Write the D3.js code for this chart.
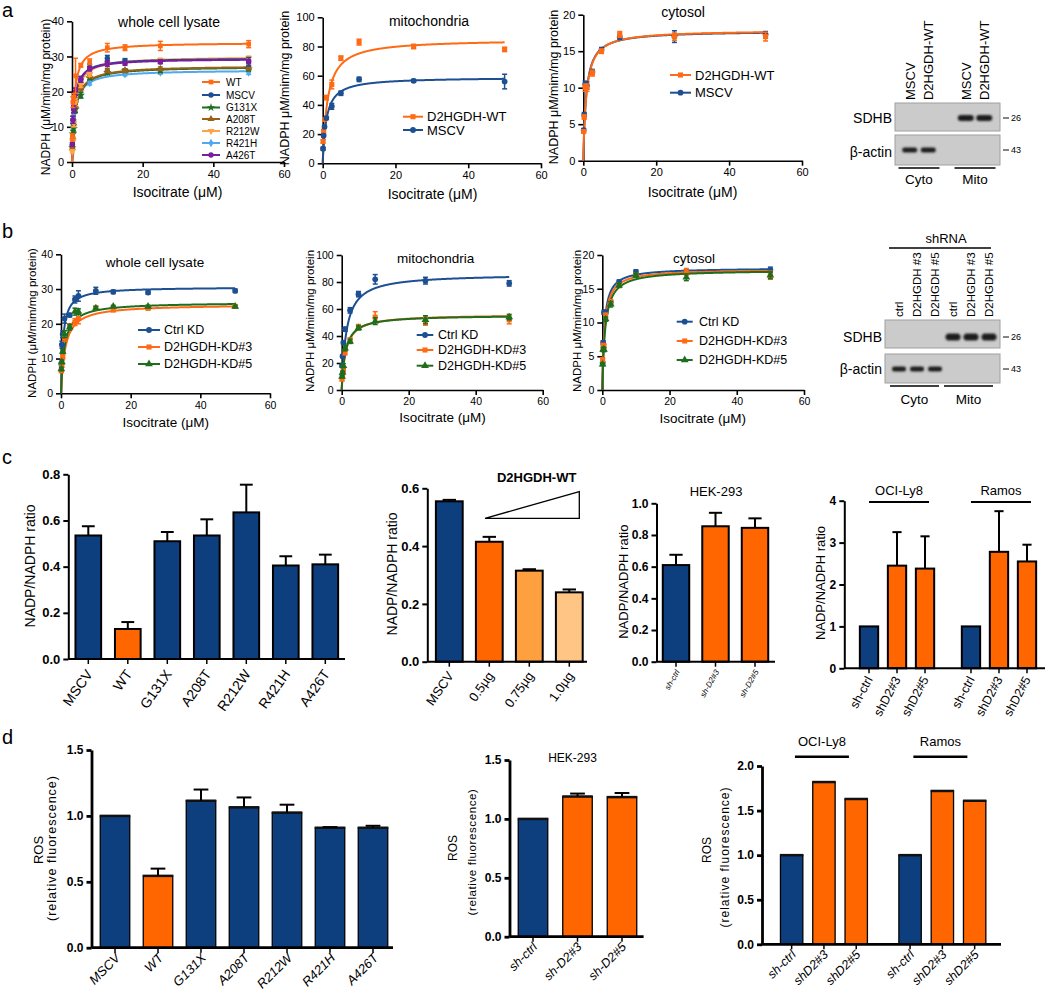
<!DOCTYPE html>
<html><head><meta charset="utf-8">
<script src="https://cdn.jsdelivr.net/npm/d3@7"></script>
<style>body{margin:0;background:#fff} svg{display:block;font-family:"Liberation Sans",Arial,Helvetica,sans-serif}</style>
</head><body><svg id="fig" width="1050" height="1003"></svg>
<script>
// ---------------- DATA ----------------
// Panel a: kinetics (Isocitrate µM vs NADPH)
const A1_X = [0.1, 0.25, 0.5, 1, 2.5, 5, 10, 15, 25, 50];
const A1_NAMES = ["WT","MSCV","G131X","A208T","R212W","R421H","A426T"];
const A1_WT      = [7, 17, 18.5, 24.5, 27.5, 28.5, 32.5, 32.5, 33, 33.5];
const A1_WT_E    = [1, 1.5, 1, 5, 0.5, 0.8, 1.2, 0.8, 1.3, 1];
const A1_MSCV    = [5, 12, 15, 20, 23.5, 27, 29.5, 28.8, 28.5, 28.5];
const A1_MSCV_E  = [0.5, 1, 1, 1, 0.8, 0.8, 0.8, 0.6, 0.5, 1.2];
const A1_G131X   = [4, 8, 9.5, 15, 19, 24, 25.5, 26, 26, 26.5];
const A1_G131X_E = [0.5, 1, 1, 1, 0.8, 0.6, 0.6, 0.5, 0.5, 0.6];
const A1_A208T   = [4, 7, 11, 16, 21, 24.5, 26, 26, 26.5, 26.8];
const A1_A208T_E = [0.5, 1, 1, 1, 0.8, 0.6, 0.6, 0.5, 0.5, 0.6];
const A1_R212W   = [3, 6, 11, 17, 22, 25, 28, 28.5, 29, 29.5];
const A1_R212W_E = [0.5, 1, 1, 1, 0.8, 0.6, 0.6, 0.5, 0.5, 0.6];
const A1_R421H   = [4, 10, 13, 17, 19, 22.5, 25.5, 25, 25.5, 25.5];
const A1_R421H_E = [0.5, 1, 1, 1, 0.8, 0.6, 0.6, 0.5, 0.5, 0.6];
const A1_A426T   = [5, 12, 15, 20, 23.5, 26.5, 28, 28, 28.5, 28.5];
const A1_A426T_E = [0.5, 1, 1, 1, 0.8, 0.6, 0.8, 0.5, 0.5, 0.6];
const A1_VMAX = [34, 29.6, 27.2, 27.4, 30, 26.2, 29.4];
const A1_KM   = [0.6, 0.6, 0.9, 0.9, 0.8, 0.8, 0.6];

const A2_X = [0.1, 0.25, 0.5, 1, 2.5, 5, 10, 25, 50];
const A2_NAMES = ["D2HGDH-WT","MSCV"];
const A2_WT     = [15, 22, 30, 45, 54, 72, 83, 80, 78];
const A2_WT_E   = [1, 1, 1, 1.5, 3, 1.5, 2, 1.5, 1.5];
const A2_MSCV   = [10, 19, 25, 31, 39, 48, 57.5, 56.5, 56];
const A2_MSCV_E = [1, 1, 1, 1, 2, 1.5, 1.5, 1, 5];
const A2_VMAX = [85, 59];
const A2_KM   = [1.3, 1.0];

const A3_X = [0.1, 0.25, 0.5, 1, 2.5, 5, 10, 25, 50];
const A3_NAMES = ["D2HGDH-WT","MSCV"];
const A3_WT     = [4, 6, 10, 10, 12, 15, 17.3, 17, 17];
const A3_WT_E   = [0.2, 0.3, 0.5, 0.5, 0.4, 0.3, 0.4, 0.5, 0.6];
const A3_MSCV   = [4.2, 6.3, 10.5, 10.3, 12.2, 15.2, 16.9, 17, 17.3];
const A3_MSCV_E = [0.2, 0.3, 0.4, 0.5, 0.3, 0.3, 0.3, 0.8, 0.4];
const A3_VMAX = [17.9, 17.8];
const A3_KM   = [0.85, 0.8];

// Panel b: knock-down kinetics
const B_NAMES = ["Ctrl KD","D2HGDH-KD#3","D2HGDH-KD#5"];
const B1_X = [0.1, 0.25, 0.5, 1, 2.5, 4, 5, 10, 15, 25, 50];
const B1_CTRL   = [8.5, 14, 17, 21.5, 22.5, 27, 28, 29.5, 29.2, 29, 29.5];
const B1_CTRL_E = [0.5, 1, 1, 1.3, 0.5, 1, 1.5, 1, 0.5, 0.5, 0.5];
const B1_KD3    = [6.5, 8, 10.5, 16, 19.5, 20.5, 21.5, 24.5, 24, 24.5, 25];
const B1_KD3_E  = [0.5, 0.5, 0.5, 1, 0.5, 1, 1.5, 0.5, 0.5, 0.5, 0.5];
const B1_KD5    = [7, 9, 12, 17, 19, 23.5, 23.5, 24.5, 25, 25, 25];
const B1_KD5_E  = [0.5, 0.5, 0.5, 1, 0.8, 1, 0.8, 0.5, 0.3, 0.3, 0.3];
const B1_VMAX = [30.6, 25.6, 26.2];
const B1_KM   = [0.6, 1.2, 1.0];

const B2_X = [0.1, 0.25, 0.5, 1, 2.5, 5, 10, 25, 50];
const B2_CTRL   = [18, 25, 35, 45, 59, 71, 82, 81, 79];
const B2_CTRL_E = [1, 1, 1, 1.5, 2, 2, 3.5, 2.5, 2];
const B2_KD3    = [8, 11, 15, 28, 37, 47, 54, 51, 52];
const B2_KD3_E  = [1, 1, 2, 2, 1.5, 1.5, 4, 3, 3];
const B2_KD5    = [10, 13, 18, 31, 36, 46, 51, 52, 54];
const B2_KD5_E  = [1, 1, 1.5, 2, 1.5, 1.5, 2.5, 3, 2];
const B2_VMAX = [86, 56, 55.5];
const B2_KM   = [1.4, 1.2, 1.1];

const B3_X = [0.1, 0.25, 0.5, 1, 2.5, 5, 10, 25, 50];
const B3_CTRL   = [4, 7, 11.5, 11.5, 13, 16, 17.5, 17.5, 17.8];
const B3_CTRL_E = [0.2, 0.3, 0.3, 0.3, 0.3, 0.3, 0.3, 0.3, 0.4];
const B3_KD3    = [4.5, 6.5, 6.5, 11, 13, 15.5, 17, 17.5, 17];
const B3_KD3_E  = [0.3, 0.4, 0.3, 0.4, 0.4, 0.3, 0.3, 0.5, 0.6];
const B3_KD5    = [3.8, 6, 6, 10.5, 12.7, 15.5, 17, 16.7, 17];
const B3_KD5_E  = [0.2, 0.3, 0.3, 0.3, 0.4, 0.3, 0.3, 0.5, 0.5];
const B3_VMAX = [18.1, 17.9, 17.8];
const B3_KM   = [0.6, 0.7, 0.85];

const X_TICKS = [0, 20, 40, 60];

// Western blots
const BLOT_ROWS = ["SDHB", "β-actin"];
const BLOT_MW = ["26", "43"];
const BLOT_GROUPS = ["Cyto", "Mito"];
const BLOT_A_LANES = ["MSCV", "D2HGDH-WT"];
const BLOT_B_LANES = ["ctrl", "D2HGDH #3", "D2HGDH #5"];

// Panel c
const C1_CATS = ["MSCV","WT","G131X","A208T","R212W","R421H","A426T"];
const C1_VALS = [0.535, 0.13, 0.51, 0.535, 0.635, 0.405, 0.41];
const C1_ERR  = [0.04, 0.03, 0.04, 0.07, 0.12, 0.04, 0.042];
const C2_CATS = ["MSCV","0.5µg","0.75µg","1.0µg"];
const C2_VALS = [0.555, 0.415, 0.315, 0.24];
const C2_ERR  = [0.005, 0.017, 0.005, 0.01];
const C3_CATS = ["sh-ctrl","sh-D2#3","sh-D2#5"];
const C3_VALS = [0.61, 0.855, 0.845];
const C3_ERR  = [0.065, 0.085, 0.06];
const C4_GROUPS = ["OCI-Ly8","Ramos"];
const C4_CATS = ["sh-ctrl","shD2#3","shD2#5"];
const C4_OCI   = [1, 2.45, 2.38];
const C4_OCI_E = [0, 0.8, 0.77];
const C4_RAM   = [1, 2.78, 2.55];
const C4_RAM_E = [0, 0.97, 0.4];

// Panel d
const D1_CATS = ["MSCV","WT","G131X","A208T","R212W","R421H","A426T"];
const D1_VALS = [1.0, 0.545, 1.115, 1.065, 1.025, 0.91, 0.91];
const D1_ERR  = [0, 0.055, 0.085, 0.075, 0.06, 0.005, 0.015];
const D2_CATS = ["sh-ctrl","sh-D2#3","sh-D2#5"];
const D2_VALS = [1.0, 1.19, 1.185];
const D2_ERR  = [0, 0.025, 0.035];
const D3_GROUPS = ["OCI-Ly8","Ramos"];
const D3_CATS = ["sh-ctrl","shD2#3","shD2#5"];
const D3_OCI = [1.0, 1.82, 1.63];
const D3_RAM = [1.0, 1.72, 1.61];

// ---------------- STYLE ----------------
const NAVY = "#0d3f7f", ORANGE = "#ff6600", ORANGE2 = "#ffa040", PEACH = "#ffc585";
const L_OR = "#ff6a14", L_BL = "#1d4f93", L_GR = "#1e6e1e", L_BR = "#9a6016",
      L_LO = "#ffa347", L_LB = "#4ea8f2", L_PU = "#7a1d9e";
const SYM = {circle: d3.symbolCircle, square: d3.symbolSquare, triangle: d3.symbolTriangle,
             diamond: d3.symbolDiamond, star: d3.symbolStar, tridown: d3.symbolTriangle};

const svg = d3.select("#fig");
const defs = svg.append("defs");
defs.append("filter").attr("id","blur").attr("x","-50%").attr("y","-50%").attr("width","200%").attr("height","200%")
  .append("feGaussianBlur").attr("stdDeviation", 0.9);

function txt(x, y, s, o = {}) {
  const t = svg.append("text").attr("x", x).attr("y", y).text(s)
    .attr("font-size", o.size || 12).attr("text-anchor", o.anchor || "middle")
    .attr("dy", o.dy ?? "0.35em").attr("fill", "#000");
  if (o.weight) t.attr("font-weight", o.weight);
  if (o.style) t.attr("font-style", o.style);
  if (o.ls) t.attr("letter-spacing", o.ls);
  if (o.rotate != null) t.attr("transform", `rotate(${o.rotate},${x},${y})`);
  return t;
}

// panel letters
txt(2, 10, "a", {size: 20, anchor: "start"});
txt(2, 231, "b", {size: 20, anchor: "start"});
txt(2, 457, "c", {size: 20, anchor: "start"});
txt(2, 737, "d", {size: 20, anchor: "start"});

// ---------------- KINETIC CHARTS ----------------
function kinetic(c) {
  const g = svg.append("g");
  const x = d3.scaleLinear().domain([0, 60]).range([c.x0, c.x1]);
  const y = d3.scaleLinear().domain([0, c.yMax]).range([c.yB, c.yT]);
  const ax = g.append("g").attr("transform", `translate(0,${c.yB})`)
    .call(d3.axisBottom(x).tickValues(X_TICKS).tickSize(5).tickSizeOuter(0));
  const ay = g.append("g").attr("transform", `translate(${c.x0},0)`)
    .call(d3.axisLeft(y).tickValues(c.yTicks).tickSize(5).tickSizeOuter(0));
  [ax, ay].forEach(a => {
    a.selectAll("path,line").attr("stroke", "#000").attr("stroke-width", 1.6);
    a.selectAll("text").attr("font-size", c.tick || 11).attr("font-family", null).attr("fill", "#000");
  });
  const xs = d3.range(0, 2, 0.01).concat(d3.range(2, 50.001, 0.1));
  const order = c.order || c.series.map((d, i) => i);
  order.forEach(i => {
    const s = c.series[i];
    g.append("path").datum(xs)
      .attr("d", d3.line().x(v => x(v)).y(v => y(s.vmax * v / (s.km + v))))
      .attr("fill", "none").attr("stroke", s.color).attr("stroke-width", 2);
  });
  order.forEach(i => {
    const s = c.series[i];
    s.y.forEach((v, k) => {
      const px = x(s.x[k]);
      const e = s.e[k];
      g.append("line").attr("x1", px).attr("x2", px).attr("y1", y(v - e)).attr("y2", y(v + e))
        .attr("stroke", s.color).attr("stroke-width", 1.5);
      [v - e, v + e].forEach(w => g.append("line").attr("x1", px - 2.5).attr("x2", px + 2.5)
        .attr("y1", y(w)).attr("y2", y(w)).attr("stroke", s.color).attr("stroke-width", 1.5));
      g.append("path").attr("d", d3.symbol(SYM[s.sym], c.msize || 26)())
        .attr("transform", `translate(${px},${y(v)})` + (s.sym === "tridown" ? " rotate(180)" : ""))
        .attr("fill", s.color);
    });
  });
  // legend
  c.series.forEach((s, i) => {
    const ly = c.leg.ys[i];
    g.append("line").attr("x1", c.leg.x1).attr("x2", c.leg.x2).attr("y1", ly).attr("y2", ly)
      .attr("stroke", s.color).attr("stroke-width", 2);
    g.append("path").attr("d", d3.symbol(SYM[s.sym], (c.msize || 26))())
      .attr("transform", `translate(${(c.leg.x1 + c.leg.x2) / 2},${ly})` + (s.sym === "tridown" ? " rotate(180)" : ""))
      .attr("fill", s.color);
    txt(c.leg.tx, ly, s.name, {size: c.leg.size, anchor: "start"});
  });
  txt(c.title[0], c.title[1], c.title[2], {size: c.titleSize || 14});
  txt(c.ylab[0], c.ylab[1], c.ylab[2], {size: c.ylab[3], rotate: -90});
  txt(c.xlab[0], c.xlab[1], "Isocitrate (μM)", {size: c.xlab[2]});
}

function mk(names, xsArr, ys, es, vmax, km, colors, syms) {
  return names.map((n, i) => ({name: n, x: xsArr, y: ys[i], e: es[i], vmax: vmax[i], km: km[i], color: colors[i], sym: syms[i]}));
}

kinetic({
  x0: 72, x1: 284, yB: 162, yT: 21.3, yMax: 40, yTicks: [0, 10, 20, 30, 40],
  series: mk(A1_NAMES, A1_X,
    [A1_WT, A1_MSCV, A1_G131X, A1_A208T, A1_R212W, A1_R421H, A1_A426T],
    [A1_WT_E, A1_MSCV_E, A1_G131X_E, A1_A208T_E, A1_R212W_E, A1_R421H_E, A1_A426T_E],
    A1_VMAX, A1_KM, [L_OR, L_BL, L_GR, L_BR, L_LO, L_LB, L_PU],
    ["square", "circle", "star", "triangle", "tridown", "diamond", "circle"]),
  order: [5, 2, 3, 4, 1, 6, 0], msize: 22,
  leg: {x1: 202, x2: 220, tx: 226, ys: [82, 95, 107.5, 119, 131, 143, 155], size: 10},
  title: [169, 22, "whole cell lysate"], ylab: [46, 97, "NADPH (μM/mim/mg protein)", 12],
  xlab: [177.5, 192.5, 14]
});
kinetic({
  x0: 322.7, x1: 541, yB: 163.3, yT: 17.3, yMax: 100, yTicks: [0, 20, 40, 60, 80, 100],
  series: mk(A2_NAMES, A2_X, [A2_WT, A2_MSCV], [A2_WT_E, A2_MSCV_E], A2_VMAX, A2_KM,
    [L_OR, L_BL], ["square", "circle"]),
  leg: {x1: 403, x2: 423, tx: 427, ys: [116.7, 130], size: 13},
  title: [429, 21, "mitochondria"], ylab: [285, 88, "NADPH μM/mim/mg protein", 12.5],
  xlab: [432.5, 194, 14]
});
kinetic({
  x0: 583.3, x1: 802, yB: 160.7, yT: 14.7, yMax: 20, yTicks: [0, 5, 10, 15, 20],
  series: mk(A3_NAMES, A3_X, [A3_WT, A3_MSCV], [A3_WT_E, A3_MSCV_E], A3_VMAX, A3_KM,
    [L_OR, L_BL], ["square", "circle"]),
  order: [1, 0],
  leg: {x1: 670, x2: 691, tx: 695, ys: [75, 92.7], size: 13},
  title: [683, 12, "cytosol"], ylab: [554, 87, "NADPH μM/mim/mg protein", 12.5],
  xlab: [692.5, 192, 14]
});
kinetic({
  x0: 61, x1: 270, yB: 393.3, yT: 254.3, yMax: 40, yTicks: [0, 10, 20, 30, 40], tick: 10.5,
  series: mk(B_NAMES, B1_X, [B1_CTRL, B1_KD3, B1_KD5], [B1_CTRL_E, B1_KD3_E, B1_KD5_E], B1_VMAX, B1_KM,
    [L_BL, L_OR, L_GR], ["circle", "square", "triangle"]),
  leg: {x1: 138, x2: 160, tx: 164, ys: [330, 347, 364], size: 12.5},
  title: [155, 262, "whole cell lysate"], titleSize: 13.5, ylab: [32, 323, "NADPH (μM/mim/mg protein)", 11.5],
  xlab: [165.8, 422.5, 13.5]
});
kinetic({
  x0: 341.7, x1: 542.7, yB: 390, yT: 255, yMax: 100, yTicks: [0, 20, 40, 60, 80, 100], tick: 10.5,
  series: mk(B_NAMES, B2_X, [B2_CTRL, B2_KD3, B2_KD5], [B2_CTRL_E, B2_KD3_E, B2_KD5_E], B2_VMAX, B2_KM,
    [L_BL, L_OR, L_GR], ["circle", "square", "triangle"]),
  leg: {x1: 416.7, x2: 433.3, tx: 438, ys: [335, 350, 365.7], size: 12.5},
  title: [435.7, 258, "mitochondria"], titleSize: 13.5, ylab: [310, 321, "NADPH μM/mim/mg protein", 11.5],
  xlab: [442.5, 417.5, 13.5]
});
kinetic({
  x0: 602.3, x1: 804, yB: 390, yT: 255, yMax: 20, yTicks: [0, 5, 10, 15, 20], tick: 10.5,
  series: mk(B_NAMES, B3_X, [B3_CTRL, B3_KD3, B3_KD5], [B3_CTRL_E, B3_KD3_E, B3_KD5_E], B3_VMAX, B3_KM,
    [L_BL, L_OR, L_GR], ["circle", "square", "triangle"]),
  leg: {x1: 676.7, x2: 692.7, tx: 699, ys: [321.7, 341, 360], size: 12.5},
  title: [694, 258, "cytosol"], titleSize: 13.5, ylab: [577, 321, "NADPH μM/mim/mg protein", 11.5],
  xlab: [702.8, 418, 13.5]
});

// ---------------- WESTERN BLOTS ----------------
function blot(c) {
  const g = svg.append("g");
  const outer = d3.scaleBand().domain(BLOT_GROUPS).range([c.r0, c.r1]).paddingInner(c.gp);
  const inner = d3.scaleBand().domain(c.lanes).range([0, outer.bandwidth()]);
  c.boxes.forEach((b, ri) => {
    g.append("rect").attr("x", c.bx0).attr("y", b[0]).attr("width", c.bx1 - c.bx0).attr("height", b[1] - b[0])
      .attr("fill", "#cbcbcb").attr("stroke", "#a0a0a0").attr("stroke-width", 1);
    txt(c.bx0 - 3, c.rowY[ri], BLOT_ROWS[ri], {size: 14, anchor: "end"});
    g.append("line").attr("x1", c.bx1 + 3).attr("x2", c.bx1 + 9).attr("y1", c.bandY[ri]).attr("y2", c.bandY[ri])
      .attr("stroke", "#333").attr("stroke-width", 1.2);
    txt(c.bx1 + 11, c.bandY[ri], BLOT_MW[ri], {size: 9, anchor: "start"});
  });
  BLOT_GROUPS.forEach((grp, gi) => {
    const gx = outer(grp);
    c.lanes.forEach((ln, li) => {
      const cx = gx + inner(ln) + inner.bandwidth() / 2;
      // band: SDHB in Mito, actin in Cyto
      const ri = gi === 1 ? 0 : 1;
      g.append("rect").attr("x", cx - c.bw[ri] / 2).attr("y", c.bandY[ri] - c.bh[ri] / 2)
        .attr("width", c.bw[ri]).attr("height", c.bh[ri]).attr("rx", c.bh[ri] / 2)
        .attr("fill", "#1e1e1e").attr("filter", "url(#blur)");
      txt(cx + c.lblDx, c.lblY, ln, {size: c.lblSize, anchor: "start", rotate: -90, dy: 0});
    });
    g.append("line").attr("x1", gx + c.ulPad[0]).attr("x2", gx + outer.bandwidth() + c.ulPad[1])
      .attr("y1", c.ulY).attr("y2", c.ulY).attr("stroke", "#000").attr("stroke-width", 1.5);
    txt(gx + outer.bandwidth() / 2 + c.ulPad[0] / 2 + c.ulPad[1] / 2, c.grpY, grp, {size: 13.5});
  });
}
blot({
  lanes: BLOT_A_LANES, r0: 900.5, r1: 993.5, gp: 0.34, bx0: 895, bx1: 1000,
  boxes: [[103, 131], [135, 165]], rowY: [118, 152], bandY: [118, 150], bw: [16, 15], bh: [6, 5],
  lblDx: 5, lblY: 100, lblSize: 13, ulY: 168, ulPad: [-2, 2], grpY: 179
});
txt(946, 238, "shRNA", {size: 13});
svg.append("line").attr("x1", 889).attr("x2", 991).attr("y1", 248).attr("y2", 248).attr("stroke", "#000").attr("stroke-width", 1.5);
blot({
  lanes: BLOT_B_LANES, r0: 890, r1: 998, gp: 0, bx0: 885, bx1: 1000,
  boxes: [[320, 348], [354, 383]], rowY: [337, 369], bandY: [337, 369], bw: [15, 14], bh: [7, 5],
  lblDx: 4, lblY: 317, lblSize: 11.5, ulY: 386, ulPad: [0, -5], grpY: 399
});

// ---------------- BAR CHARTS ----------------
function barChart(c) {
  const g = svg.append("g");
  const y = d3.scaleLinear().domain([0, c.yMax]).range([c.yB, c.yT]);
  const outer = d3.scaleBand().domain(c.groups.map(d => d.name)).range([c.r0, c.r1]).paddingInner(c.gp || 0);
  const inner = d3.scaleBand().domain(c.cats).range([0, outer.bandwidth()]).paddingInner(c.ip).paddingOuter(c.ip / 2);
  const ay = g.append("g").attr("transform", `translate(${c.ax},0)`)
    .call(d3.axisLeft(y).tickValues(c.ticks).tickFormat(d3.format(c.fmt)).tickSize(5).tickSizeOuter(0));
  ay.selectAll("path,line").attr("stroke", "#000").attr("stroke-width", c.axW);
  ay.selectAll("text").attr("font-size", c.tick).attr("font-weight", "bold").attr("font-family", null).attr("fill", "#000");
  const w = inner.bandwidth();
  c.groups.forEach(grp => {
    grp.vals.forEach((v, i) => {
      const x0 = outer(grp.name) + inner(c.cats[i]);
      const cx = x0 + w / 2;
      g.append("rect").attr("x", x0).attr("y", y(v)).attr("width", w).attr("height", c.yB - y(v))
        .attr("fill", grp.colors[i]).attr("stroke", "#000").attr("stroke-width", c.barW);
      if (c.topW) g.append("line").attr("x1", x0 - 0.5).attr("x2", x0 + w + 0.5).attr("y1", y(v)).attr("y2", y(v))
        .attr("stroke", "#111").attr("stroke-width", c.topW);
      const e = grp.errs ? grp.errs[i] : 0;
      if (e > 0) {
        g.append("line").attr("x1", cx).attr("x2", cx).attr("y1", y(v)).attr("y2", y(v + e))
          .attr("stroke", "#000").attr("stroke-width", 2);
        g.append("line").attr("x1", cx - w / 4).attr("x2", cx + w / 4).attr("y1", y(v + e)).attr("y2", y(v + e))
          .attr("stroke", "#000").attr("stroke-width", 2);
      }
      g.append("line").attr("x1", cx).attr("x2", cx).attr("y1", c.yB).attr("y2", c.yB + 5)
        .attr("stroke", "#000").attr("stroke-width", 1.5);
      g.append("text").text(c.cats[i]).attr("font-size", c.lbl.size).attr("text-anchor", "end")
        .attr("font-style", c.lbl.style || null)
        .attr("transform", `translate(${cx + c.lbl.dx},${c.yB + c.lbl.dy}) rotate(${c.lbl.rot})`);
    });
    if (c.grpLab) {
      const gc = outer(grp.name) + outer.bandwidth() / 2 + c.grpLab.dx;
      txt(gc, c.grpLab.ty, grp.name, {size: c.grpLab.size});
      g.append("line").attr("x1", gc - c.grpLab.hw).attr("x2", gc + c.grpLab.hw)
        .attr("y1", c.grpLab.ly).attr("y2", c.grpLab.ly).attr("stroke", "#000").attr("stroke-width", c.grpLab.lw);
    }
  });
  g.append("line").attr("x1", c.ax).attr("x2", c.axEnd).attr("y1", c.yB).attr("y2", c.yB)
    .attr("stroke", "#000").attr("stroke-width", c.axW);
  c.ylab.forEach(l => txt(l[0], l[1], l[2], {size: l[3], rotate: -90, ls: l[4]}));
}

barChart({
  ax: 68.3, axEnd: 345, yB: 659, yT: 474.3, yMax: 0.8, ticks: [0, 0.2, 0.4, 0.6, 0.8], fmt: ".1f", tick: 13,
  axW: 2, barW: 2, r0: 68.55, r1: 345.05, ip: 0.35, cats: C1_CATS,
  groups: [{name: "", vals: C1_VALS, errs: C1_ERR, colors: [NAVY, ORANGE, NAVY, NAVY, NAVY, NAVY, NAVY]}],
  lbl: {size: 14, dx: 5, dy: 15, rot: -55}, ylab: [[30, 566, "NADP/NADPH ratio", 14]]
});
barChart({
  ax: 427.3, axEnd: 587, yB: 661.7, yT: 488.3, yMax: 0.6, ticks: [0, 0.2, 0.4, 0.6], fmt: ".1f", tick: 13,
  axW: 2, barW: 2, r0: 429.3, r1: 589.3, ip: 0.33, cats: C2_CATS,
  groups: [{name: "", vals: C2_VALS, errs: C2_ERR, colors: [NAVY, ORANGE, ORANGE2, PEACH]}],
  lbl: {size: 13, dx: 5, dy: 14, rot: -55}, ylab: [[391.7, 574, "NADP/NADPH ratio", 14]]
});
txt(536.7, 477.3, "D2HGDH-WT", {size: 13, weight: "bold"});
svg.append("polygon").attr("points", "485,518.3 579.3,491.7 579.3,518.3")
  .attr("fill", "none").attr("stroke", "#000").attr("stroke-width", 1.3);
barChart({
  ax: 656.5, axEnd: 775, yB: 661.7, yT: 503.3, yMax: 1.0, ticks: [0, 0.2, 0.4, 0.6, 0.8, 1.0], fmt: ".1f", tick: 12,
  axW: 2, barW: 2, r0: 656.25, r1: 774.75, ip: 0.33, cats: C3_CATS,
  groups: [{name: "", vals: C3_VALS, errs: C3_ERR, colors: [NAVY, ORANGE, ORANGE]}],
  lbl: {size: 8, dx: 4, dy: 10, rot: -60, style: "italic"}, ylab: [[623.3, 581.7, "NADP/NADPH ratio", 13]]
});
txt(716, 491.7, "HEK-293", {size: 13});
barChart({
  ax: 844.3, axEnd: 1045, yB: 668.3, yT: 500.7, yMax: 4, ticks: [0, 1, 2, 3, 4], fmt: "d", tick: 12,
  axW: 2, barW: 2, r0: 855, r1: 1041, gp: 0.176, ip: 0.346, cats: C4_CATS,
  groups: [{name: "OCI-Ly8", vals: C4_OCI, errs: C4_OCI_E, colors: [NAVY, ORANGE, ORANGE]},
           {name: "Ramos", vals: C4_RAM, errs: C4_RAM_E, colors: [NAVY, ORANGE, ORANGE]}],
  grpLab: {dx: 2, ty: 490, ly: 502, hw: 30, size: 13, lw: 2},
  lbl: {size: 12.5, dx: 4, dy: 11, rot: -62}, ylab: [[820, 583, "NADP/NADPH ratio", 13]]
});

barChart({
  ax: 91.5, axEnd: 393, yB: 947.7, yT: 750, yMax: 1.5, ticks: [0, 0.5, 1.0, 1.5], fmt: ".1f", tick: 12,
  axW: 2.8, barW: 1.3, topW: 2.5, r0: 93.5, r1: 394.5, ip: 0.314, cats: D1_CATS,
  groups: [{name: "", vals: D1_VALS, errs: D1_ERR, colors: [NAVY, ORANGE, NAVY, NAVY, NAVY, NAVY, NAVY]}],
  lbl: {size: 13, dx: 6, dy: 11, rot: -45, style: "italic"},
  ylab: [[38, 850, "ROS", 13], [52, 848, "(relative fluorescence)", 12.5, "1px"]]
});
barChart({
  ax: 509.5, axEnd: 643.6, yB: 936.7, yT: 760, yMax: 1.5, ticks: [0, 0.5, 1.0, 1.5], fmt: ".1f", tick: 12,
  axW: 2.8, barW: 1.3, topW: 2.5, r0: 510.75, r1: 644.25, ip: 0.337, cats: D2_CATS,
  groups: [{name: "", vals: D2_VALS, errs: D2_ERR, colors: [NAVY, ORANGE, ORANGE]}],
  lbl: {size: 12.5, dx: 5, dy: 11, rot: -45, style: "italic"},
  ylab: [[452.6, 848, "ROS", 12], [472, 852, "(relative fluorescence)", 11.5, "0.6px"]]
});
txt(572.5, 758, "HEK-293", {size: 12});
barChart({
  ax: 762, axEnd: 1001, yB: 944.3, yT: 766, yMax: 2.0, ticks: [0, 0.5, 1.0, 1.5, 2.0], fmt: ".1f", tick: 12,
  axW: 2.8, barW: 1.3, topW: 2.5, r0: 775.5, r1: 990.8, gp: 0.182, ip: 0.307, cats: D3_CATS,
  groups: [{name: "OCI-Ly8", vals: D3_OCI, errs: null, colors: [NAVY, ORANGE, ORANGE]},
           {name: "Ramos", vals: D3_RAM, errs: null, colors: [NAVY, ORANGE, ORANGE]}],
  grpLab: {dx: -2, ty: 741, ly: 756.7, hw: 27, size: 13, lw: 2.5},
  lbl: {size: 12.5, dx: 5, dy: 11, rot: -45, style: "italic"},
  ylab: [[706.6, 850, "ROS", 12], [725, 857, "(relative fluorescence)", 12, "1px"]]
});
</script></body></html>
